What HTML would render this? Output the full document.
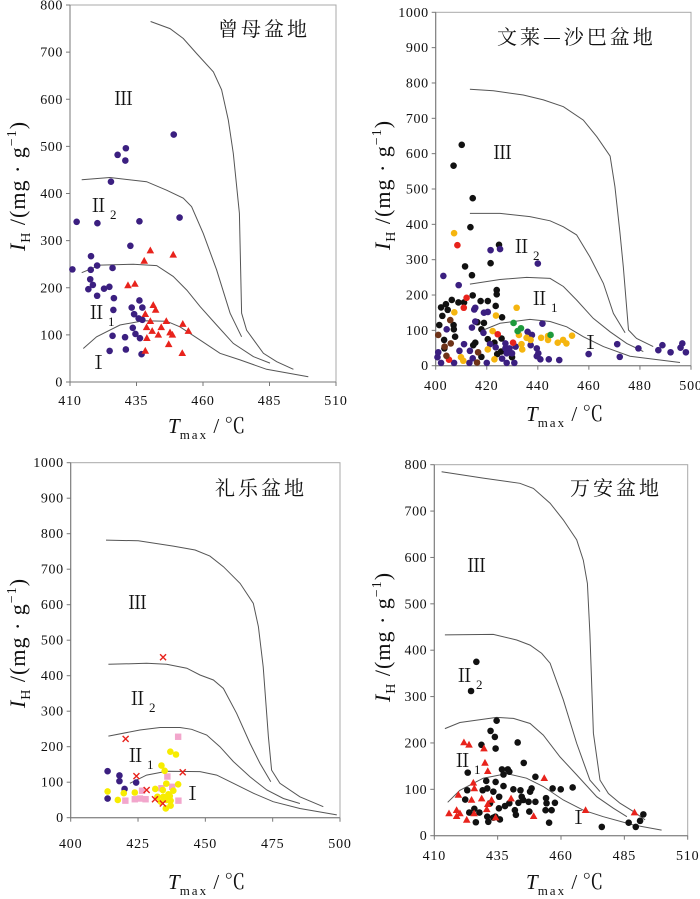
<!DOCTYPE html>
<html><head><meta charset="utf-8"><style>
html,body{margin:0;padding:0;background:#fff;}
svg{display:block;font-family:"Liberation Serif","Noto Serif CJK SC",serif;}
</style></head><body>
<svg id="chart" width="700" height="899" viewBox="0 0 700 899" xmlns="http://www.w3.org/2000/svg"></svg>
<script>
// ---------- Panel 1: 曾母盆地 ----------
const p1Circles = [[410.9,239],[412.5,340],[417.9,267],[417.8,238],[420.2,247],[417.6,218],[418.6,206],[416.9,197],[420.2,183],[420.3,337],[422.8,198],[424.8,202],[426,242],[426.5,178],[426.3,153],[426,98],[424.9,66],[431,69],[430.7,95],[425.4,425],[427.9,482],[431,496],[430.8,470],[449,525],[451.2,349],[436.1,341],[432.7,289],[433.2,158],[434.1,144],[433.6,115],[434.6,102],[436.3,93],[436.9,59],[436.1,173],[437.2,158],[435.8,135],[437.2,132]];
const p1Triangles = [[440.2,279],[448.8,270],[437.9,257],[431.8,205],[434.4,208],[441.3,163],[442.2,153],[438.3,144],[440.2,129],[438.8,116],[440.9,108],[444.3,116],[446.2,129],[443.2,100],[447.6,105],[448.5,100],[438.9,93],[447.1,80],[452.4,123],[454.5,108],[452.2,61],[438.3,66]];
const p1CurveIII = [[440.3,765],[447.6,750],[452.6,729],[457.6,697],[463.9,658],[467,620],[469.5,556],[471.4,485],[473.7,358],[474.5,146],[476.4,110],[482.7,61],[487.7,43],[494,27]];
const p1CurveII2 = [[414.4,429],[425,434],[438.8,425],[446.3,407],[452.6,390],[455.7,372],[460.1,315],[465.1,238],[470.2,146],[474.5,96]];
const p1CurveII1 = [[414.4,232],[421.3,248],[433.8,250],[442.6,247],[448.8,224],[453.9,195],[458.9,160],[465.1,121],[471.4,82],[478.9,54],[485.2,40]];
const p1CurveI = [[415,71],[420,96],[428.8,121],[437.6,130],[446.3,129],[451.4,117],[458.9,89],[466.4,61],[473.9,47],[483.9,27],[499.6,11]];
const p1XTicks = [410,435,460,485,510];
const p1YTicks = [0,100,200,300,400,500,600,700,800];

// ---------- Panel 2: 文莱—沙巴盆地 ----------
const p2Black = [[410.2,625],[407,566],[414.5,474],[413.6,392],[424.8,342],[421.5,290],[411.5,281],[414.2,256],[423.9,214],[423.9,202],[414.5,199],[406.3,186],[408.9,179],[411.1,179],[417.6,183],[420.4,183],[404,174],[402.1,165],[404.7,158],[423.5,169],[426,137],[402.6,141],[407,115],[407.1,103],[401.4,115],[416.3,123],[418.9,121],[417.9,103],[407.6,82],[403.3,73],[420.4,75],[423,65],[415.5,65],[414.7,58],[425.8,77],[425.6,40],[424.1,33],[403.4,49],[429.9,24],[417.9,25]];
const p2Purple = [[403,254],[409,228],[415.1,159],[415.5,164],[418.9,150],[420.4,152],[421.5,327],[425.2,330],[440,289],[441.8,119],[404.3,103],[411.1,61],[409.3,42],[413.4,42],[414.2,108],[415.5,125],[418.7,93],[421.3,61],[423.5,52],[427.3,49],[428.9,49],[431.3,54],[436,96],[437.7,87],[437.2,58],[439.6,49],[440.2,35],[439.6,27],[441,18],[444.3,18],[448.4,16],[427.3,63],[427.8,35],[429.9,35],[426,20],[427.8,8],[430.8,8],[420,8],[401,38],[400.7,24],[402.1,8],[407.2,8],[413.2,8],[414.5,21],[459.9,33],[471.1,61],[472.1,25],[479.4,49],[487.2,44],[488.8,58],[492,38],[495.9,51],[496.6,63],[498,38]];
const p2Yellow = [[407.2,375],[407.3,151],[423.6,142],[431.7,164],[422.3,98],[432.6,87],[435.6,79],[437.2,73],[441.3,79],[444,84],[444,73],[447.8,65],[449.9,73],[451.2,63],[453.4,85],[433.6,61],[433.9,46],[420.4,46],[423,18],[409.9,24],[410.8,14]];
const p2Red = [[408.5,341],[412.1,192],[411,164],[424.3,89],[430.3,65],[405.2,17]];
const p2Brown = [[401,87],[405.7,129],[403.5,54],[405.9,63],[404.2,28],[416.6,38],[416.2,9]];
const p2Green = [[430.5,121],[432.1,98],[433.4,106],[445,87]];
const p2CurveIII = [[413.4,782],[422.6,778],[434.3,766],[442.2,752],[450,733],[457.8,695],[463.1,648],[468.3,593],[470.2,507],[472.2,375],[473.5,280],[475.5,101],[478.7,77],[485.2,54]];
const p2CurveII2 = [[413.4,431],[425.2,431],[436.9,422],[444.8,410],[450,393],[455.2,370],[460.4,308],[465.7,233],[469.6,148],[474.2,93]];
const p2CurveII1 = [[413.4,231],[425.2,244],[435.6,250],[444.8,247],[450,224],[455.2,186],[461.7,134],[468.3,96],[474.8,63],[481.3,40]];
const p2CurveI = [[418.7,101],[425.2,120],[436.9,131],[444.8,125],[451.3,110],[457.8,82],[465.7,54],[476.1,27],[495.7,9]];
const p2XTicks = [400,420,440,460,480,500];
const p2YTicks = [0,100,200,300,400,500,600,700,800,900,1000];

// ---------- Panel 3: 礼乐盆地 ----------
const p3Purple = [[413.7,131],[418.1,119],[418.1,103],[424.3,99],[420,81],[413.7,54]];
const p3Yellow = [[413.7,74],[417.5,50],[419.7,69],[423.8,71],[431.4,81],[433.7,147],[434.9,132],[437,186],[439.1,178],[439.9,94],[435.5,96],[432.2,59],[433.4,45],[435.3,26],[437.1,34],[438.1,76],[436.3,66],[434.4,59],[435.6,50],[437.1,48],[436.8,61],[434.2,78]];
const p3Pink = [[439.9,228],[435.9,116],[437.7,87],[433.7,83],[426.5,76],[427.8,52],[423.8,52],[420.3,48],[440,48],[425.7,54]];
const p3Cross = [[434.3,452],[420.4,222],[424.4,117],[441.6,128],[428.2,78],[431.3,52],[434.2,40]];
const p3CurveIII = [[413.1,782],[425.1,780],[438.1,765],[446.2,754],[451.7,737],[456.7,707],[462.9,660],[467.8,604],[469.7,538],[471.5,425],[473.4,228],[474.6,134],[477.7,97],[485.1,59],[493.8,31]];
const p3CurveII2 = [[414,432],[428.2,435],[435.6,432],[443.1,421],[448,402],[453,388],[456.7,364],[461.6,294],[466.6,209],[470.3,153],[474.3,101]];
const p3CurveII1 = [[414,230],[425.7,247],[433.2,254],[440.6,254],[444.9,249],[450.5,233],[455.4,200],[460.4,158],[466.6,115],[472.8,78],[479,54],[485.1,40]];
const p3CurveI = [[422,97],[428.2,120],[435.6,131],[448,130],[454.2,120],[460.4,97],[467.8,69],[475.2,45],[485.1,26],[498.8,8]];
const p3XTicks = [400,425,450,475,500];
const p3YTicks = [0,100,200,300,400,500,600,700,800,900,1000];

// ---------- Panel 4: 万安盆地 ----------
const p4Black = [[426.6,375],[424.5,312],[434.6,248],[432.2,226],[433.9,213],[434.2,188],[428.6,196],[442.9,201],[445.3,157],[436.7,143],[439,143],[439.6,138],[437.3,132],[423.2,136],[449.9,127],[430.5,118],[434.2,116],[430.9,102],[429.1,98],[433.3,95],[437.3,107],[441.2,100],[444,98],[448.4,102],[447.8,95],[456.7,102],[459.9,100],[464.6,104],[423,98],[422.2,78],[423.8,50],[425.8,58],[427.8,50],[426.4,29],[432,70],[430.9,41],[431.3,30],[434.1,41],[435.5,59],[435.6,84],[437.9,64],[439.6,70],[441.8,55],[443.2,71],[445.1,77],[447.2,73],[442.2,45],[444.5,84],[447.5,52],[449.9,73],[454.1,81],[454.3,70],[453.9,55],[456.3,55],[457.6,71],[455.3,28],[435.9,35],[433.3,39],[476.1,19],[486.7,28],[489.5,19],[491.2,32],[492.5,46]];
const p4Triangles = [[421.7,201],[423.7,196],[429.6,188],[430,157],[431.1,139],[425.4,114],[425.8,102],[419.5,88],[424.7,77],[428.7,80],[431.1,68],[432.6,77],[440.3,80],[415.8,48],[418.8,55],[418.8,42],[420.1,48],[422.8,34],[425.7,48],[430.7,57],[434.2,39],[453.4,124],[449.2,42],[469.7,55],[489,50]];
const p4CurveIII = [[412.9,785],[429.3,771],[443.8,760],[449.1,749],[455.7,717],[460.9,681],[466.2,638],[468.8,594],[470.4,544],[471.4,436],[472.8,221],[475.4,120],[478.7,91],[483.3,70],[488.6,52],[493.2,34]];
const p4CurveII2 = [[414.2,433],[433.3,434],[442.5,422],[447.8,411],[452.4,393],[455.7,372],[460.9,293],[466.2,199],[471.4,120],[475.4,95]];
const p4CurveII1 = [[414.2,231],[420.1,244],[434.6,255],[441.2,253],[447.8,242],[453,217],[459.6,170],[466.2,131],[474.1,84],[480.7,59],[486,41]];
const p4CurveI = [[415.3,72],[420.1,98],[429.3,124],[438.6,134],[446.4,124],[453,106],[460.9,77],[468.8,55],[476.7,41],[488.6,23],[499.7,12]];
const p4XTicks = [410,435,460,485,510];
const p4YTicks = [0,100,200,300,400,500,600,700,800];

const NS = "http://www.w3.org/2000/svg";
const svg = document.getElementById('chart');
function mk(tag, attrs, parent){
  const e = document.createElementNS(NS, tag);
  for (const k in attrs) e.setAttribute(k, attrs[k]);
  (parent||svg).appendChild(e);
  return e;
}

function panel(cfg){
  const g = mk('g', {});
  
  
  const sx = t => cfg.x0 + (t - cfg.tMin) / (cfg.tMax - cfg.tMin) * (cfg.x1 - cfg.x0);
  const sy = v => cfg.yBot - v / cfg.ihMax * (cfg.yBot - cfg.yTop);
  const fr = mk('rect', {x:cfg.x0, y:cfg.yTop, width:cfg.x1-cfg.x0, height:cfg.yBot-cfg.yTop, fill:'none', stroke:'#a8a8a8', 'stroke-width':1}, g);
  
  
  const ax = mk('path', {d:`M${cfg.x0},${cfg.yTop}V${cfg.yBot}H${cfg.x1}`, fill:'none', stroke:'#777', 'stroke-width':1}, g);
  
  
  cfg.yTicks.forEach(v => {
    const y = sy(v);
    mk('line', {x1:cfg.x0-4, x2:cfg.x0, y1:y, y2:y, stroke:'#777'}, g);
    const t = mk('text', {x:cfg.x0-7, y:y+4.5, 'text-anchor':'end', 'font-size':14, fill:'#111', 'letter-spacing':'0.6'}, g);
    t.textContent = v;
    
    
  });
  cfg.xTicks.forEach(v => {
    const x = sx(v);
    mk('line', {x1:x, x2:x, y1:cfg.yBot, y2:cfg.yBot+4, stroke:'#777'}, g);
    const t = mk('text', {x:x, y:cfg.xLabY, 'text-anchor':'middle', 'font-size':14, fill:'#111', 'letter-spacing':'0.8'}, g);
    t.textContent = v;
    
    
  });
  const xt = mk('text', {x:cfg.xTitleX, y:cfg.xTitleY, 'font-size':21, fill:'#111'}, g);
  xt.innerHTML = '<tspan font-style="italic">T</tspan><tspan font-size="13" dy="6" letter-spacing="2">max</tspan><tspan dy="-6"> / ℃</tspan>';
  
  
  const yt = mk('text', {x:0, y:0, 'font-size':22, fill:'#111', 'text-anchor':'middle', 'letter-spacing':'1', transform:`translate(${cfg.yTitleX},${cfg.yTitleY}) rotate(-90)`}, g);
  yt.innerHTML = '<tspan font-style="italic">I</tspan><tspan font-size="14" dy="5">H</tspan><tspan dy="-5"> /(mg · g</tspan><tspan font-size="14" dy="-9">−1</tspan><tspan dy="9">)</tspan>';
  
  
  const tt = mk('text', {x:cfg.titleX, y:cfg.titleY, 'font-size':20, fill:'#111', 'letter-spacing':'3', 'font-family':'"Noto Serif CJK SC","Noto Sans CJK SC",serif'}, g);
  tt.textContent = cfg.title;
  
  
  cfg.curves.forEach((c, i) => {
    const p = mk('path', {d: c.map((q,j)=>(j?'L':'M')+sx(q[0]).toFixed(1)+','+sy(q[1]).toFixed(1)).join(''), fill:'none', stroke:'#555', 'stroke-width':1}, g);
    
    
  });
  cfg.regions.forEach(r => {
    const t = mk('text', {x:r[1], y:r[2], 'font-size':19, fill:'#111'}, g);
    t.innerHTML = r[3] ? r[0] + '<tspan font-size="13" dx="2" dy="7">' + r[3] + '</tspan>' : r[0];
    
    
  });
  cfg.series.forEach(s => {
    s.data.forEach(d => {
      const x = sx(d[0]), y = sy(d[1]);
      let e;
      if (s.shape === 'circle') e = mk('circle', {cx:x, cy:y, r:3.3, fill:s.color}, g);
      else if (s.shape === 'tri') e = mk('path', {d:`M${x},${y-4}L${x+3.8},${y+2.8}L${x-3.8},${y+2.8}Z`, fill:s.color}, g);
      else if (s.shape === 'square') e = mk('rect', {x:x-3.2, y:y-3.2, width:6.4, height:6.4, fill:s.color}, g);
      else e = mk('path', {d:`M${x-3},${y-3}L${x+3},${y+3}M${x+3},${y-3}L${x-3},${y+3}`, stroke:s.color, 'stroke-width':1.4, fill:'none'}, g);
      
      
    });
  });
}

panel({name:'panel-zengmu', title:'曾母盆地', x0:70, x1:336, yTop:5, yBot:382, tMin:410, tMax:510, ihMax:800,
  xTicks:p1XTicks, yTicks:p1YTicks, xLabY:405, xTitleX:168, xTitleY:433, yTitleX:25, yTitleY:186, titleX:218, titleY:36,
  curves:[p1CurveIII,p1CurveII2,p1CurveII1,p1CurveI],
  regions:[['Ⅲ',114,105],['Ⅱ',89,212,'2'],['Ⅱ',87,319,'1'],['Ⅰ',89,369]],
  series:[{name:'point-purple',shape:'circle',color:'#3b1f80',data:p1Circles},{name:'point-red-triangle',shape:'tri',color:'#e8231c',data:p1Triangles}]});

panel({name:'panel-wenlai-shaba', title:'文莱—沙巴盆地', x0:435.7, x1:691, yTop:12.3, yBot:365.7, tMin:400, tMax:500, ihMax:1000,
  xTicks:p2XTicks, yTicks:p2YTicks, xLabY:390, xTitleX:526, xTitleY:421, yTitleX:390, yTitleY:185, titleX:497, titleY:44,
  curves:[p2CurveIII,p2CurveII2,p2CurveII1,p2CurveI],
  regions:[['Ⅲ',493,159],['Ⅱ',512,253,'2'],['Ⅱ',530,305,'1'],['Ⅰ',581,349]],
  series:[{name:'point-black',shape:'circle',color:'#111',data:p2Black},{name:'point-purple',shape:'circle',color:'#3b1f80',data:p2Purple},{name:'point-yellow',shape:'circle',color:'#f5b50f',data:p2Yellow},{name:'point-red',shape:'circle',color:'#e8231c',data:p2Red},{name:'point-brown',shape:'circle',color:'#6e3318',data:p2Brown},{name:'point-green',shape:'circle',color:'#1e9a3c',data:p2Green}]});

panel({name:'panel-liyue', title:'礼乐盆地', x0:70.7, x1:340, yTop:462.7, yBot:817.7, tMin:400, tMax:500, ihMax:1000,
  xTicks:p3XTicks, yTicks:p3YTicks, xLabY:848, xTitleX:168, xTitleY:889, yTitleX:25, yTitleY:643, titleX:215, titleY:495,
  curves:[p3CurveIII,p3CurveII2,p3CurveII1,p3CurveI],
  regions:[['Ⅲ',128,609],['Ⅱ',128,705,'2'],['Ⅱ',126,762,'1'],['Ⅰ',183,800]],
  series:[{name:'point-purple',shape:'circle',color:'#3b1f80',data:p3Purple},{name:'point-pink-square',shape:'square',color:'#f2a6cc',data:p3Pink},{name:'point-yellow',shape:'circle',color:'#f7ec00',data:p3Yellow},{name:'point-red-cross',shape:'x',color:'#e8231c',data:p3Cross}]});

panel({name:'panel-wanan', title:'万安盆地', x0:434.3, x1:687.7, yTop:464.7, yBot:835.7, tMin:410, tMax:510, ihMax:800,
  xTicks:p4XTicks, yTicks:p4YTicks, xLabY:860, xTitleX:526, xTitleY:889, yTitleX:390, yTitleY:637, titleX:570, titleY:495,
  curves:[p4CurveIII,p4CurveII2,p4CurveII1,p4CurveI],
  regions:[['Ⅲ',467,572],['Ⅱ',455,682,'2'],['Ⅱ',453,767,'1'],['Ⅰ',569,824]],
  series:[{name:'point-black',shape:'circle',color:'#111',data:p4Black},{name:'point-red-triangle',shape:'tri',color:'#e8231c',data:p4Triangles}]});
</script>
</body></html>
